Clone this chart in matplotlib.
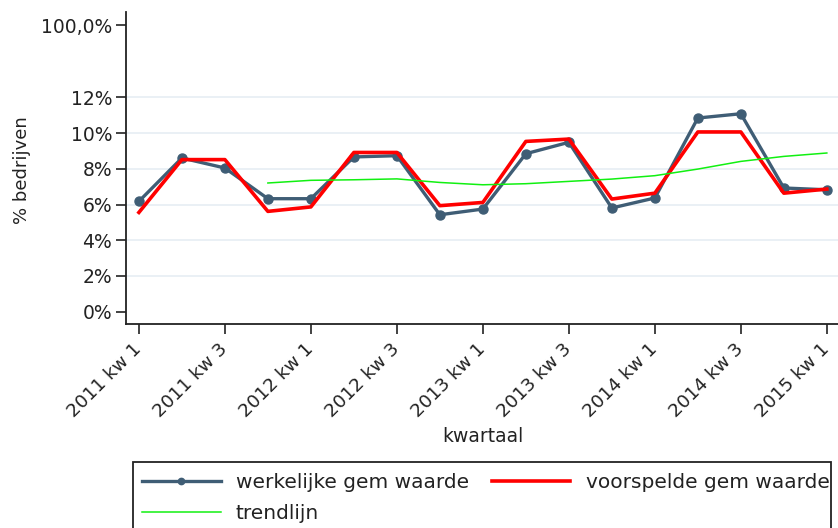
import numpy as np
import matplotlib
matplotlib.use("Agg")
import matplotlib.pyplot as plt
from matplotlib.patches import Rectangle

quarters = ["2011 kw 1", "2011 kw 2", "2011 kw 3", "2011 kw 4",
            "2012 kw 1", "2012 kw 2", "2012 kw 3", "2012 kw 4",
            "2013 kw 1", "2013 kw 2", "2013 kw 3", "2013 kw 4",
            "2014 kw 1", "2014 kw 2", "2014 kw 3", "2014 kw 4",
            "2015 kw 1"]
werkelijk = [6.18, 8.61, 8.05, 6.33, 6.33, 8.67, 8.74, 5.43, 5.75,
             8.85, 9.49, 5.81, 6.37, 10.85, 11.09, 6.93, 6.83]
voorspeld = [5.56, 8.52, 8.52, 5.62, 5.87, 8.92, 8.92, 5.94, 6.12,
             9.54, 9.67, 6.31, 6.64, 10.07, 10.07, 6.64, 6.87]
trend = [np.nan, np.nan, np.nan, 7.21, 7.36, 7.39, 7.44, 7.24, 7.11,
         7.17, 7.30, 7.43, 7.62, 7.99, 8.42, 8.70, 8.89]
ytick_vals = [0, 2, 4, 6, 8, 10, 12]
ytick_labels = ["0%", "2%", "4%", "6%", "8%", "10%", "12%"]
top_label = "100,0%"
top_pos = 16.06  # axis position where the 100,0% label sits (broken axis)

plt.rcParams['font.family'] = ['DejaVu Sans']

W, H = 838, 528
fig = plt.figure(figsize=(W/100, H/100), dpi=100)
ax = fig.add_axes([126/W, 1-324/H, 1-126/W, (324-12)/H])

x = np.arange(len(quarters))
for g in ytick_vals[1:]:
    ax.axhline(g, color="#e6edf3", lw=1.2, zorder=0)

l1, = ax.plot(x, werkelijk, color="#3f5d75", lw=2.4, marker="o", ms=6.5,
              label="werkelijke gem waarde", zorder=2)
l2, = ax.plot(x, voorspeld, color="#ff0000", lw=2.6, label="voorspelde gem waarde", zorder=3)
l3, = ax.plot(x, trend, color="#11f011", lw=1.1, label="trendlijn", zorder=4)

ax.set_xlim(-0.30, 16.26)
ax.set_ylim(-0.69, 16.79)

ax.set_yticks(ytick_vals + [top_pos])
ax.set_yticklabels(ytick_labels + [top_label], fontsize=13.5, color="#222222")
ax.set_xticks(x[::2])
ax.set_xticklabels([quarters[i] for i in x[::2]], rotation=45, ha="right",
                   va="center", rotation_mode="anchor", fontsize=13.3, color="#222222")
ax.tick_params(axis="both", direction="out", length=7, width=1.2, color="#222222")
ax.tick_params(axis="x", pad=9)
ax.tick_params(axis="y", pad=3)

for s in ["top", "right"]:
    ax.spines[s].set_visible(False)
for s in ["left", "bottom"]:
    ax.spines[s].set_linewidth(1.3)
    ax.spines[s].set_color("#222222")

ax.set_ylabel("% bedrijven", fontsize=13, color="#222222")
ax.yaxis.label.set_va("center")
ax.yaxis.set_label_coords((22-126)/(W-126), (324-170)/(324-12))
fig.text(483/W, 1-437/H, "kwartaal", fontsize=13.5, color="#222222",
         ha="center", va="center")

# legend frame (extends beyond the figure edge as in the reference)
fig.patches.append(Rectangle((133/W, -0.2), (831-133)/W, 1-462/H+0.2,
                             transform=fig.transFigure, fill=False,
                             edgecolor="#222222", lw=1.3))
leg = fig.legend([l1, l3, l2], [l1.get_label(), l3.get_label(), l2.get_label()],
                 loc="upper left", bbox_to_anchor=(142/W, 1-473/H),
                 ncol=2, fontsize=14.5, frameon=False, handlelength=3.9,
                 handletextpad=0.75, columnspacing=1.15, labelspacing=0.6,
                 borderpad=0, numpoints=1, markerscale=0.7, borderaxespad=0)
for t in leg.get_texts():
    t.set_color("#222222")

fig.savefig("out.png", dpi=100)
